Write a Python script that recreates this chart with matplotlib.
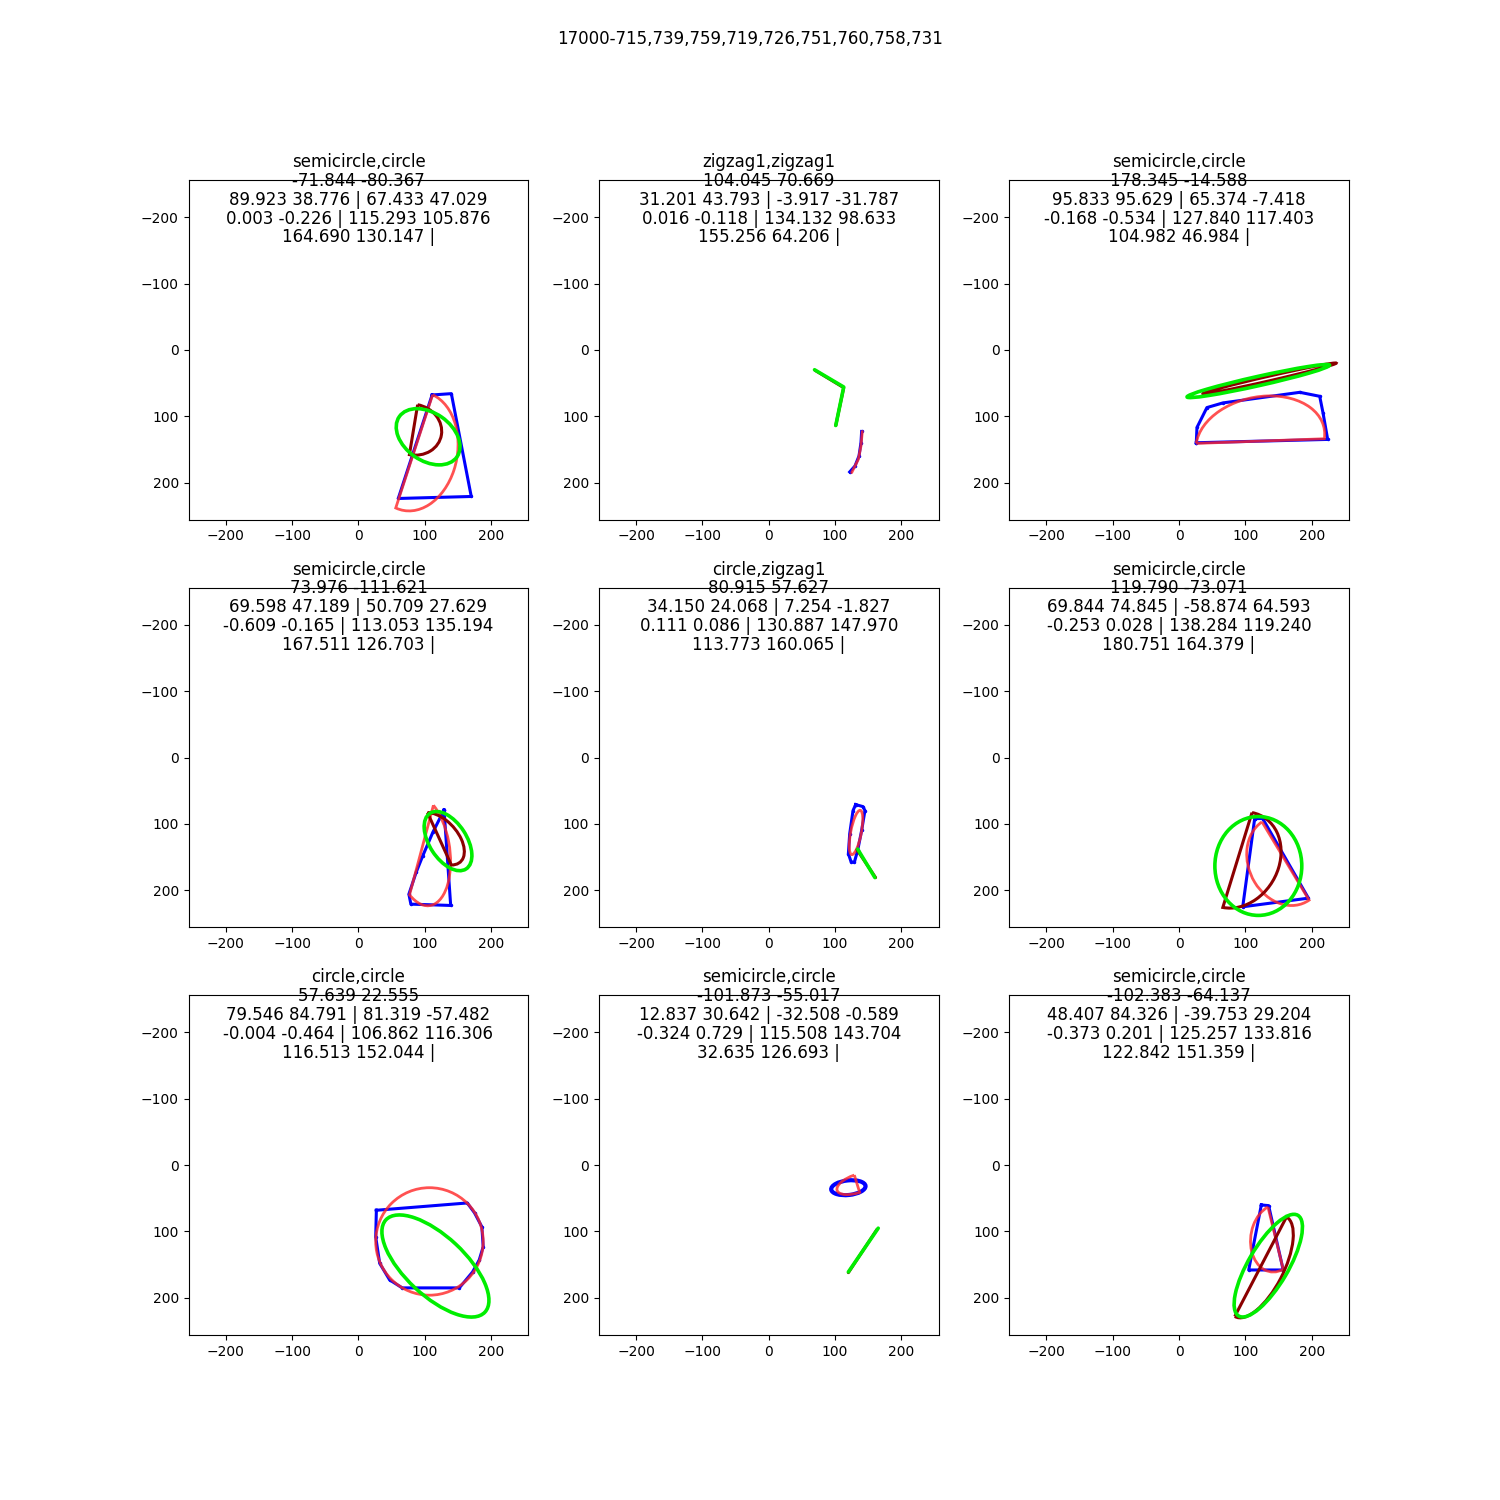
import numpy as np
import matplotlib
matplotlib.use("Agg")
import matplotlib.pyplot as plt
from matplotlib.path import Path
from matplotlib.patches import PathPatch, Ellipse
from matplotlib.transforms import Affine2D, offset_copy

SUPTITLE = "17000-715,739,759,719,726,751,760,758,731"

titles = [
    "semicircle,circle\n-71.844 -80.367\n89.923 38.776 | 67.433 47.029\n0.003 -0.226 | 115.293 105.876\n164.690 130.147 |",
    "zigzag1,zigzag1\n104.045 70.669\n31.201 43.793 | -3.917 -31.787\n0.016 -0.118 | 134.132 98.633\n155.256 64.206 |",
    "semicircle,circle\n178.345 -14.588\n95.833 95.629 | 65.374 -7.418\n-0.168 -0.534 | 127.840 117.403\n104.982 46.984 |",
    "semicircle,circle\n73.976 -111.621\n69.598 47.189 | 50.709 27.629\n-0.609 -0.165 | 113.053 135.194\n167.511 126.703 |",
    "circle,zigzag1\n80.915 57.627\n34.150 24.068 | 7.254 -1.827\n0.111 0.086 | 130.887 147.970\n113.773 160.065 |",
    "semicircle,circle\n119.790 -73.071\n69.844 74.845 | -58.874 64.593\n-0.253 0.028 | 138.284 119.240\n180.751 164.379 |",
    "circle,circle\n57.639 22.555\n79.546 84.791 | 81.319 -57.482\n-0.004 -0.464 | 106.862 116.306\n116.513 152.044 |",
    "semicircle,circle\n-101.873 -55.017\n12.837 30.642 | -32.508 -0.589\n-0.324 0.729 | 115.508 143.704\n32.635 126.693 |",
    "semicircle,circle\n-102.383 -64.137\n48.407 84.326 | -39.753 29.204\n-0.373 0.201 | 125.257 133.816\n122.842 151.359 |",
]

# Blue drawn strokes (x list, y list) per panel; None when drawn as ellipse
blue_x = [
    [111, 140, 170, 60, 111],
    [140, 139, 136, 130, 122],
    [26, 27, 42, 66, 182, 212, 217, 224, 26],
    [129, 139, 79, 76, 87, 97, 112, 129],
    [131, 142, 145, 140, 134, 129, 124, 120, 122, 127, 131],
    [114, 126, 195, 96, 114],
    [27, 164, 175, 186, 188, 182, 172, 152, 66, 47, 32, 26, 27],
    None,
    [124, 135, 157, 105, 124],
]
blue_y = [
    [68, 66, 221, 224, 68],
    [123, 140, 160, 175, 184],
    [140, 117, 87, 80, 64, 70, 95, 135, 140],
    [79, 223, 221, 206, 173, 148, 113, 79],
    [71, 74, 80, 110, 140, 158, 157, 145, 115, 80, 71],
    [92, 92, 212, 225, 92],
    [68, 57, 72, 93, 123, 143, 161, 185, 185, 173, 148, 108, 68],
    None,
    [60, 61, 158, 158, 60],
]
# Blue ellipse (panel 8): cx, cy, width, height, angle
blue_ell = {7: (120, 34, 52, 22, -6)}

# Shapes: "semi" = half ellipse (centre, half-diameter vector u, apex vector v),
# "ell" = ellipse (cx, cy, w, h, angle), "line" = polyline (xs, ys)
red_shapes = [
    ("semi", (84, 153), (27.8, -85.3), (60, 28)),
    ("line", [141, 139, 135, 125], [123, 145, 165, 185]),
    ("semi", (122.5, 137.5), (-96.5, 3.5), (10, -68)),
    ("semi", (95, 139.5), (18, -67.5), (40, 50)),
    ("ell", (131.5, 113, 68, 16, -79)),
    ("semi", (160.5, 156), (-35.5, -59), (-46.5, 32)),
    ("ell", (107, 115, 162, 162, 0)),
    ("semi", (133, 28), (-4, -13), (-30, 10)),
    ("semi", (145.5, 110), (-11.5, -47), (-36, 20)),
]
darkred_shapes = [
    ("semi", (83, 120.3), (6.2, -37.6), (42, 8)),
    ("line", [70, 113, 101], [31, 57, 114]),
    ("ell", (136.5, 43, 206, 7, -12.9)),
    ("semi", (122, 122.5), (-18, -39.5), (33, 0.5)),
    ("line", [133, 161], [139, 181]),
    ("semi", (88, 154.5), (22, -71.5), (62, 12)),
    None,
    ("line", [120, 163], [162, 97]),
    ("semi", (123, 153), (-39, 75), (30, 18)),
]
green_shapes = [
    ("ell", (105, 131, 106, 72, 35)),
    ("line", [69, 113, 101], [30, 56, 114]),
    ("ell", (119.5, 47, 220, 14, -12.6)),
    ("ell", (135, 126, 100, 56, 57)),
    ("line", [134, 160], [138, 181]),
    ("ell", (119.5, 163.5, 131, 149, 0)),
    ("ell", (116, 152, 204, 90, 43)),
    ("line", [165, 120], [95, 161]),
    ("ell", (134.5, 151.5, 176, 60, -59.6)),
]

LIM = 256
TICKS = [-200, -100, 0, 100, 200]

RED = (1.0, 0.15, 0.15, 0.8)
DARKRED = "#8b0000"
GREEN = "#00ee00"


def draw_shape(ax, shape, color, lw, z):
    if shape is None:
        return
    kind = shape[0]
    if kind == "semi":
        (cx, cy), (ux, uy), (vx, vy) = shape[1], shape[2], shape[3]
        arc = Path.arc(0, 180)
        verts = np.vstack([arc.vertices, arc.vertices[:1]])
        codes = np.concatenate([arc.codes, [Path.LINETO]])
        path = Path(verts, codes)
        tr = Affine2D.from_values(ux, uy, vx, vy, cx, cy) + ax.transData
        ax.add_patch(PathPatch(path, transform=tr, fill=False, edgecolor=color,
                               lw=lw, zorder=z))
    elif kind == "ell":
        cx, cy, w, h, ang = shape[1]
        ax.add_patch(Ellipse((cx, cy), w, h, angle=ang, fill=False,
                             edgecolor=color, lw=lw, zorder=z))
    elif kind == "line":
        ax.plot(shape[1], shape[2], color=color, lw=lw, zorder=z,
                solid_capstyle="round")


fig, axes = plt.subplots(3, 3, figsize=(15, 15), dpi=100)
for i, ax in enumerate(axes.flat):
    if blue_x[i] is not None:
        ax.plot(blue_x[i], blue_y[i], color="blue", lw=2.2, marker=".",
                ms=3, zorder=2)
    if i in blue_ell:
        cx, cy, w, h, ang = blue_ell[i]
        ax.add_patch(Ellipse((cx, cy), w, h, angle=ang, fill=False,
                             edgecolor="blue", lw=3, zorder=2))
    draw_shape(ax, red_shapes[i], RED, 2.0, 3)
    draw_shape(ax, darkred_shapes[i], DARKRED, 2.2, 4)
    draw_shape(ax, green_shapes[i], GREEN, 2.6, 5)
    ax.set_xlim(-LIM, LIM)
    ax.set_ylim(LIM, -LIM)
    ax.set_xticks(TICKS)
    ax.set_yticks(TICKS)
    ax.set_aspect("equal")
    tr = offset_copy(ax.transAxes, fig=fig, x=0, y=27, units="dots")
    ax.text(0.5, 1.0, titles[i], transform=tr, ha="center", va="top",
            fontsize=12, linespacing=1.06, zorder=10)

fig.suptitle(SUPTITLE)
fig.savefig("out.png", dpi=100)
